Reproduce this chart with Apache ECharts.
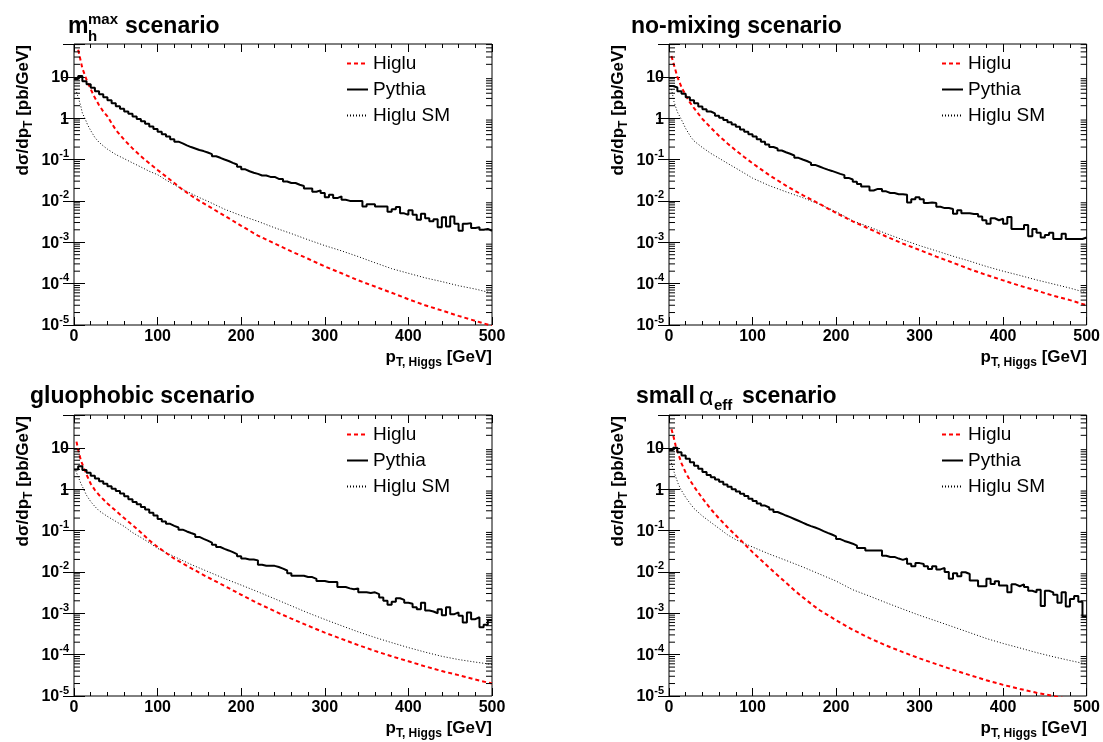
<!DOCTYPE html>
<html>
<head>
<meta charset="utf-8">
<title>Higgs pT spectra in four MSSM scenarios</title>
<script src="https://cdn.jsdelivr.net/npm/echarts@6/dist/echarts.min.js"></script>
<style>
  html, body { margin: 0; padding: 0; background: #fff; }
  #chart { width: 1103px; height: 742px; }
</style>
</head>
<body>
<div id="chart"></div>
<script>
// axis ticks
const xTicks = [0, 100, 200, 300, 400, 500];
const yDecades = [-5, -4, -3, -2, -1, 0, 1];
const minorSteps = [2, 3, 4, 5, 6, 7, 8, 9];
const binWidth = 5; // GeV, Pythia histogram

// mhmax scenario
const higluMhmax = [[5,45],[10,16],[15,8.5],[20,5.0],[25,3.1],[30,2.05],[35,1.45],[40,1.1],[50,0.52],[60,0.30],[70,0.186],[80,0.12],[90,0.081],[100,0.056],[110,0.039],[120,0.027],[130,0.0186],[140,0.0135],[150,0.010],[160,0.0076],[180,0.0044],[200,0.0025],[220,0.00145],[240,9.3e-4],[260,6.0e-4],[280,4.0e-4],[300,2.6e-4],[320,1.78e-4],[340,1.2e-4],[360,8.5e-5],[380,6.0e-5],[400,4.2e-5],[420,3.0e-5],[440,2.24e-5],[460,1.66e-5],[480,1.26e-5],[500,9.5e-6]];
const smMhmax = [[2,5.0],[5,3.2],[8,2.0],[10,1.32],[13,1.0],[16,0.71],[20,0.50],[25,0.34],[30,0.26],[35,0.214],[40,0.178],[50,0.132],[60,0.105],[70,0.083],[80,0.066],[90,0.052],[100,0.043],[110,0.032],[120,0.0245],[130,0.019],[140,0.0151],[150,0.012],[160,0.0098],[180,0.0063],[200,0.0044],[220,0.0032],[240,0.00224],[260,0.00162],[280,0.00115],[300,8.3e-4],[320,6.2e-4],[340,4.5e-4],[360,3.2e-4],[380,2.3e-4],[400,1.78e-4],[420,1.38e-4],[440,1.12e-4],[460,8.9e-5],[480,7.4e-5],[500,5.9e-5]];
const pythiaMhmax = [
  8.8, 10.5, 7.8, 6.6, 5.4, 4.5, 3.8, 3.2, 2.7, 2.3,
  1.95, 1.68, 1.45, 1.27, 1.1, 0.96, 0.84, 0.73, 0.63, 0.55,
  0.47, 0.41, 0.36, 0.31, 0.27, 0.245, 0.22, 0.2, 0.185, 0.17,
  0.16, 0.148, 0.135, 0.12, 0.11, 0.1, 0.092, 0.083, 0.076, 0.067,
  0.058, 0.052, 0.048, 0.045, 0.041, 0.041, 0.038, 0.038, 0.034, 0.034,
  0.0295, 0.027, 0.027, 0.0245, 0.023, 0.020, 0.020, 0.0166, 0.018, 0.0155,
  0.0123, 0.014, 0.0117, 0.0129, 0.0107, 0.010, 0.010, 0.010, 0.010, 0.0073,
  0.0083, 0.0083, 0.0073, 0.0073, 0.0073, 0.0055, 0.0063, 0.0071, 0.0050, 0.0046,
  0.0059, 0.0046, 0.0035, 0.0049, 0.0038, 0.0032, 0.0036, 0.0023, 0.0040, 0.0024,
  0.0042, 0.0028, 0.0019, 0.0028, 0.0029, 0.0022, 0.0023, 0.0020, 0.0021, 0.0019
];

// no-mixing scenario
const higluNomix = [[3,31.6],[5,22.4],[10,10],[15,5.6],[20,3.55],[25,2.4],[30,1.74],[40,0.955],[50,0.59],[60,0.37],[70,0.245],[80,0.166],[90,0.115],[100,0.081],[120,0.042],[140,0.0234],[160,0.0138],[180,0.0085],[200,0.0051],[220,0.0032],[240,0.0021],[260,0.00138],[280,9.3e-4],[300,6.5e-4],[320,4.5e-4],[340,3.2e-4],[360,2.24e-4],[380,1.62e-4],[400,1.2e-4],[420,8.9e-5],[440,6.8e-5],[460,5.1e-5],[480,4.0e-5],[500,3.0e-5]];
const smNomix = [[3,5.0],[6,2.5],[10,1.41],[14,1.0],[20,0.56],[26,0.355],[30,0.28],[40,0.195],[50,0.141],[60,0.107],[70,0.081],[80,0.062],[90,0.047],[100,0.0355],[120,0.0234],[140,0.0166],[160,0.012],[180,0.0083],[200,0.0055],[220,0.0033],[240,0.00234],[260,0.00162],[280,0.00115],[300,8.3e-4],[320,6.2e-4],[340,4.6e-4],[360,3.5e-4],[380,2.6e-4],[400,2.0e-4],[420,1.58e-4],[440,1.23e-4],[460,9.8e-5],[480,7.8e-5],[500,6.0e-5]];
const pythiaNomix = [
  6.0, 5.5, 4.5, 3.9, 3.2, 2.7, 2.3, 1.9, 1.65, 1.45,
  1.3, 1.15, 1.02, 0.9, 0.8, 0.7, 0.62, 0.53, 0.47, 0.41,
  0.36, 0.31, 0.27, 0.23, 0.2, 0.185, 0.165, 0.15, 0.138, 0.125,
  0.11, 0.1, 0.092, 0.083, 0.074, 0.068, 0.062, 0.057, 0.053, 0.049,
  0.045, 0.042, 0.036, 0.033, 0.029, 0.0257, 0.0223, 0.0223, 0.0178, 0.0195,
  0.0195, 0.0170, 0.0155, 0.0155, 0.0145, 0.0145, 0.014, 0.0091, 0.011, 0.0123,
  0.011, 0.0089, 0.0091, 0.0089, 0.0072, 0.0067, 0.0067, 0.0064, 0.0049, 0.0059,
  0.0050, 0.0050, 0.0048, 0.0048, 0.0042, 0.0034, 0.0028, 0.0038, 0.0034, 0.0037,
  0.0028, 0.0041, 0.0021, 0.0021, 0.0021, 0.0026, 0.0014, 0.0021, 0.0017, 0.0013,
  0.0015, 0.0017, 0.0012, 0.0012, 0.0016, 0.0012, 0.0012, 0.0012, 0.0012, 0.0013
];

// gluophobic scenario
const higluGluo = [[3,14.1],[5,8.9],[8,5.2],[10,4.0],[15,2.24],[20,1.35],[25,0.95],[30,0.72],[40,0.45],[50,0.30],[60,0.20],[70,0.135],[80,0.09],[90,0.058],[100,0.04],[120,0.0209],[140,0.0123],[160,0.0074],[180,0.0046],[200,0.0028],[220,0.00174],[240,0.00112],[260,7.4e-4],[280,5.0e-4],[300,3.4e-4],[320,2.4e-4],[340,1.7e-4],[360,1.23e-4],[380,9.1e-5],[400,6.9e-5],[420,5.2e-5],[440,4.0e-5],[460,3.2e-5],[480,2.5e-5],[500,2.0e-5]];
const smGluo = [[2,2.8],[5,2.0],[8,1.41],[11,1.05],[15,0.71],[20,0.50],[25,0.38],[30,0.30],[40,0.219],[50,0.166],[60,0.126],[70,0.089],[80,0.068],[90,0.051],[100,0.037],[120,0.0234],[140,0.0151],[160,0.0102],[180,0.0069],[200,0.0048],[220,0.0033],[240,0.00224],[260,0.00151],[280,0.00102],[300,7.1e-4],[320,5.0e-4],[340,3.55e-4],[360,2.6e-4],[380,1.95e-4],[400,1.48e-4],[420,1.15e-4],[440,9.1e-5],[460,7.6e-5],[480,6.6e-5],[500,5.8e-5]];
const pythiaGluo = [
  3.0, 3.6, 2.9, 2.5, 2.1, 1.8, 1.55, 1.35, 1.17, 1.02,
  0.9, 0.78, 0.67, 0.57, 0.49, 0.43, 0.37, 0.32, 0.27, 0.23,
  0.19, 0.165, 0.145, 0.13, 0.118, 0.105, 0.095, 0.087, 0.08, 0.07,
  0.063, 0.057, 0.051, 0.045, 0.04, 0.036, 0.033, 0.03, 0.027, 0.024,
  0.021, 0.02, 0.02, 0.019, 0.0148, 0.014, 0.014, 0.014, 0.0131, 0.012,
  0.0108, 0.0093, 0.0081, 0.0081, 0.0081, 0.0075, 0.0075, 0.0068, 0.006, 0.006,
  0.0057, 0.0057, 0.0057, 0.0043, 0.0043, 0.0040, 0.0038, 0.0040, 0.0032, 0.0032,
  0.0031, 0.0032, 0.0029, 0.0024, 0.0020, 0.0016, 0.0019, 0.0023, 0.0021, 0.0018,
  0.0017, 0.0014, 0.00125, 0.0018, 0.00117, 0.0011, 0.001, 0.00125, 0.0009, 0.0014,
  0.00095, 0.00105, 0.00087, 0.0006, 0.00105, 0.00072, 0.0008, 0.00046, 0.00053, 0.00068
];

// small alpha_eff scenario
const higluSmall = [[3,28.2],[5,20],[8,11.2],[10,8.3],[15,4.2],[20,2.5],[25,1.66],[30,1.15],[40,0.60],[50,0.33],[60,0.195],[70,0.12],[80,0.076],[90,0.048],[100,0.030],[110,0.0195],[120,0.0126],[130,0.0083],[140,0.0055],[150,0.0036],[160,0.00245],[170,0.0017],[180,0.0012],[200,6.8e-4],[220,4.0e-4],[240,2.5e-4],[260,1.66e-4],[280,1.15e-4],[300,8.1e-5],[320,5.9e-5],[340,4.3e-5],[360,3.2e-5],[380,2.4e-5],[400,1.86e-5],[420,1.48e-5],[440,1.2e-5],[460,1.0e-5],[480,8.3e-6],[500,7.1e-6]];
const smSmall = [[2,5.0],[5,3.0],[8,2.0],[11,1.35],[14,1.0],[20,0.63],[26,0.43],[30,0.34],[40,0.224],[50,0.158],[60,0.112],[70,0.079],[80,0.060],[90,0.049],[100,0.040],[120,0.027],[140,0.019],[160,0.0132],[180,0.0089],[200,0.006],[220,0.0037],[240,0.0026],[260,0.0018],[280,0.00126],[300,8.9e-4],[320,6.5e-4],[340,4.7e-4],[360,3.4e-4],[380,2.45e-4],[400,1.86e-4],[420,1.45e-4],[440,1.12e-4],[460,8.9e-5],[480,7.2e-5],[500,5.9e-5]];
const pythiaSmall = [
  8.8, 10, 7.8, 6.5, 5.4, 4.5, 3.7, 3.1, 2.6, 2.2,
  1.95, 1.7, 1.5, 1.3, 1.15, 1.0, 0.88, 0.77, 0.68, 0.59,
  0.52, 0.45, 0.4, 0.36, 0.32, 0.28, 0.255, 0.23, 0.21, 0.19,
  0.172, 0.155, 0.14, 0.128, 0.118, 0.108, 0.097, 0.088, 0.08, 0.072,
  0.062, 0.056, 0.052, 0.048, 0.043, 0.038, 0.038, 0.033, 0.033, 0.033,
  0.033, 0.0245, 0.023, 0.023, 0.021, 0.0195, 0.021, 0.0158, 0.0136, 0.0163,
  0.0155, 0.0136, 0.0117, 0.0136, 0.0115, 0.0125, 0.010, 0.0068, 0.0093, 0.0078,
  0.0098, 0.0089, 0.0062, 0.0062, 0.0045, 0.0045, 0.0068, 0.0051, 0.0059, 0.0047,
  0.0047, 0.0032, 0.005, 0.0045, 0.005, 0.0043, 0.0035, 0.0032, 0.0037, 0.0015,
  0.0035, 0.0032, 0.0028, 0.0018, 0.0032, 0.00145, 0.0022, 0.0026, 0.0019, 0.00083
];

const legendNames = ['Higlu', 'Pythia', 'Higlu SM'];

const FONT = '"Liberation Sans", Arial, Helvetica, sans-serif';
const GRID_W = 418;
const GRID_H = 281;
const Y_MIN = 1e-5;
const Y_MAX = 62;

const panels = [
  { left: 74, top: 44, higlu: higluMhmax, sm: smMhmax, pythia: pythiaMhmax },
  { left: 669, top: 44, higlu: higluNomix, sm: smNomix, pythia: pythiaNomix },
  { left: 74, top: 415, higlu: higluGluo, sm: smGluo, pythia: pythiaGluo },
  { left: 669, top: 415, higlu: higluSmall, sm: smSmall, pythia: pythiaSmall }
];

// histogram -> step points at bin low edges, plus closing point
function histPoints(vals) {
  const pts = vals.map((v, i) => [i * binWidth, v]);
  pts.push([vals.length * binWidth, vals[vals.length - 1]]);
  return pts;
}

const minorTickValues = [];
yDecades.forEach(e => {
  minorSteps.forEach(m => {
    const v = m * Math.pow(10, e);
    if (v < Y_MAX) minorTickValues.push([0, v]);
  });
});

function yLabel(value) {
  const e = Math.round(Math.log10(value));
  if (Math.abs(value / Math.pow(10, e) - 1) > 1e-6) return '';
  if (e === 1) return '{b|10}';
  if (e === 0) return '{b|1}';
  return '{b|10}{p|' + e + '}';
}

const chart = echarts.init(document.getElementById('chart'));

const grids = [], xAxes = [], yAxes = [], series = [], legends = [], graphics = [];

const tickStyle = { color: '#000', width: 1 };

panels.forEach((p, i) => {
  grids.push({
    left: p.left, top: p.top, width: GRID_W, height: GRID_H,
    show: true, borderColor: '#000', borderWidth: 1, backgroundColor: 'transparent'
  });

  ['bottom', 'top'].forEach(pos => {
    xAxes.push({
      type: 'value', gridIndex: i, position: pos,
      min: xTicks[0], max: xTicks[xTicks.length - 1], interval: 100,
      axisLine: { show: false },
      splitLine: { show: false },
      axisTick: { inside: true, length: 8, lineStyle: tickStyle },
      minorTick: { show: true, splitNumber: 5, length: 4, lineStyle: tickStyle },
      axisLabel: {
        show: pos === 'bottom', margin: 4, color: '#000',
        fontSize: 16, fontWeight: 'bold', fontFamily: FONT
      }
    });
  });

  ['left', 'right'].forEach(pos => {
    yAxes.push({
      type: 'log', logBase: 10, gridIndex: i, position: pos,
      min: Y_MIN, max: Y_MAX, splitNumber: 7,
      axisLine: { show: false },
      splitLine: { show: false },
      axisTick: { inside: true, length: 11, lineStyle: tickStyle },
      axisLabel: {
        show: pos === 'left', margin: 5, formatter: yLabel,
        rich: {
          b: { fontSize: 16, fontWeight: 'bold', fontFamily: FONT, color: '#000', lineHeight: 18, verticalAlign: 'bottom' },
          p: { fontSize: 11, fontWeight: 'bold', fontFamily: FONT, color: '#000', lineHeight: 12, padding: [0, 0, 9, 0], verticalAlign: 'bottom' }
        }
      }
    });
  });

  const xi = 2 * i, yi = 2 * i;

  series.push({
    name: 'Higlu', type: 'line', xAxisIndex: xi, yAxisIndex: yi,
    data: p.higlu, symbol: 'none', clip: true, z: 3,
    lineStyle: { color: '#ff0000', width: 2, type: [4, 3] },
    itemStyle: { color: '#ff0000' }
  });
  series.push({
    name: 'Pythia', type: 'line', xAxisIndex: xi, yAxisIndex: yi,
    data: histPoints(p.pythia), step: 'end', symbol: 'none', clip: true, z: 4,
    lineStyle: { color: '#000', width: 2 },
    itemStyle: { color: '#000' }
  });
  series.push({
    name: 'Higlu SM', type: 'line', xAxisIndex: xi, yAxisIndex: yi,
    data: p.sm, symbol: 'none', clip: true, z: 2,
    lineStyle: { color: '#000', width: 1, type: [1, 2] },
    itemStyle: { color: '#000' }
  });
  // log minor ticks, left and right
  series.push({
    type: 'custom', xAxisIndex: xi, yAxisIndex: yi, silent: true, z: 5,
    data: minorTickValues,
    renderItem: (params, api) => {
      const y = api.coord([0, api.value(1)])[1];
      const cs = params.coordSys;
      return {
        type: 'group',
        children: [
          { type: 'line', shape: { x1: cs.x, y1: y, x2: cs.x + 6, y2: y }, style: { stroke: '#000', lineWidth: 1 } },
          { type: 'line', shape: { x1: cs.x + cs.width - 6, y1: y, x2: cs.x + cs.width, y2: y }, style: { stroke: '#000', lineWidth: 1 } }
        ]
      };
    }
  });

  legends.push({
    left: p.left + 272, top: p.top + 10, orient: 'vertical',
    itemWidth: 21, itemHeight: 12, itemGap: 7, padding: 0,
    selectedMode: false,
    itemStyle: { opacity: 0 },
    data: legendNames,
    textStyle: { fontSize: 19, fontFamily: FONT, color: '#000' }
  });

  // axis titles
  graphics.push({
    type: 'text', x: p.left - 49.5, y: p.top + 1, rotation: Math.PI / 2,
    style: {
      text: '{b|dσ/dp}{s|T}{b| [pb/GeV]}', align: 'right', verticalAlign: 'middle',
      rich: {
        b: { fontSize: 17, fontWeight: 'bold', fontFamily: FONT, fill: '#000', lineHeight: 20, verticalAlign: 'top' },
        s: { fontSize: 12, fontWeight: 'bold', fontFamily: FONT, fill: '#000', lineHeight: 14, padding: [15, 0, 0, 0], verticalAlign: 'bottom' }
      }
    }
  });
  graphics.push({
    type: 'text', x: p.left + GRID_W, y: p.top + GRID_H + 24,
    style: {
      text: '{b|p}{s|T, Higgs}{b| [GeV]}', align: 'right', verticalAlign: 'top',
      rich: {
        b: { fontSize: 17, fontWeight: 'bold', fontFamily: FONT, fill: '#000', lineHeight: 20, verticalAlign: 'top' },
        s: { fontSize: 12, fontWeight: 'bold', fontFamily: FONT, fill: '#000', lineHeight: 14, padding: [14, 0, 0, 0], verticalAlign: 'bottom' }
      }
    }
  });
});

// panel titles
const titleFont = { fontSize: 23, fontWeight: 'bold', fontFamily: FONT, fill: '#000' };
graphics.push(
  { type: 'text', x: 68, y: 27, style: Object.assign({ text: 'm', verticalAlign: 'middle' }, titleFont) },
  { type: 'text', x: 88, y: 37, style: { text: 'h', verticalAlign: 'middle', fontSize: 15, fontWeight: 'bold', fontFamily: FONT, fill: '#000' } },
  { type: 'text', x: 88, y: 20, style: { text: 'max', verticalAlign: 'middle', fontSize: 15, fontWeight: 'bold', fontFamily: FONT, fill: '#000' } },
  { type: 'text', x: 125, y: 27, style: Object.assign({ text: 'scenario', verticalAlign: 'middle' }, titleFont) },
  { type: 'text', x: 631, y: 27, style: Object.assign({ text: 'no-mixing scenario', verticalAlign: 'middle' }, titleFont) },
  { type: 'text', x: 30, y: 397, style: Object.assign({ text: 'gluophobic scenario', verticalAlign: 'middle' }, titleFont) },
  { type: 'text', x: 636, y: 397, style: Object.assign({ text: 'small', verticalAlign: 'middle' }, titleFont) },
  { type: 'text', x: 699, y: 398, style: { text: 'α', verticalAlign: 'middle', fontSize: 25, fontFamily: FONT, fill: '#000' } },
  { type: 'text', x: 714, y: 406, style: { text: 'eff', verticalAlign: 'middle', fontSize: 15, fontWeight: 'bold', fontFamily: FONT, fill: '#000' } },
  { type: 'text', x: 742, y: 397, style: Object.assign({ text: 'scenario', verticalAlign: 'middle' }, titleFont) }
);

chart.setOption({
  animation: false,
  backgroundColor: '#fff',
  grid: grids,
  xAxis: xAxes,
  yAxis: yAxes,
  legend: legends,
  series: series,
  graphic: graphics
});
</script>
</body>
</html>
